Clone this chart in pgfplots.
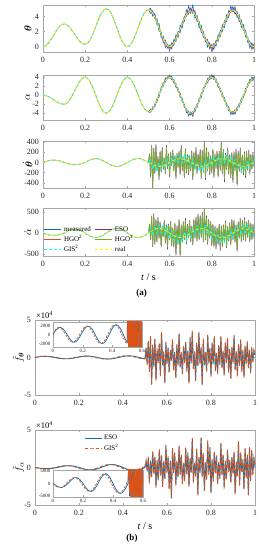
\documentclass[border=0pt]{standalone}
\usepackage{pgfplots}
\pgfplotsset{compat=1.18}
\usepackage{pgfplotstable}
\usepackage{fontspec}
\setmainfont{Liberation Serif}
\usepackage{amsmath}
\usepackage{bm}

\definecolor{cmeas}{rgb}{0,0.447,0.741}
\definecolor{ceso}{rgb}{0.494,0.184,0.556}
\definecolor{chgo}{rgb}{0.85,0.325,0.098}
\definecolor{chgoone}{rgb}{0.466,0.674,0.188}
\definecolor{cgis}{rgb}{0,1,1}
\definecolor{creal}{rgb}{1,0.95,0}

% smooth signals, t = 0 ... 1
\pgfplotstableread{
t th al thd ald
0.00 0 0 0 0
0.01 0.07 -0.05 15 -19
0.02 0.29 -0.19 28 -35
0.03 0.62 -0.41 38 -49
0.04 1.04 -0.69 45 -57
0.05 1.5 -1 47 -60
0.06 1.96 -1.31 45 -57
0.07 2.38 -1.59 38 -49
0.08 2.71 -1.81 28 -35
0.09 2.93 -1.95 15 -19
0.10 3.0 -2 0 0
0.11 2.93 -1.85 -14 29
0.12 2.74 -1.43 -27 56
0.13 2.44 -0.76 -36 77
0.14 2.07 0.07 -43 90
0.15 1.65 1 -45 95
0.16 1.23 1.93 -43 90
0.17 0.86 2.76 -36 77
0.18 0.56 3.43 -27 56
0.19 0.37 3.85 -14 29
0.20 0.3 4 0 0
0.21 0.42 3.8 23 -34
0.22 0.75 3.24 44 -65
0.23 1.27 2.35 60 -89
0.24 1.92 1.24 70 -105
0.25 2.65 0 74 -110
0.26 3.38 -1.24 70 -105
0.27 4.03 -2.35 60 -89
0.28 4.55 -3.24 44 -65
0.29 4.88 -3.8 23 -34
0.30 5.0 -4 0 0
0.31 4.88 -3.8 -24 34
0.32 4.52 -3.24 -46 65
0.33 3.97 -2.35 -63 89
0.34 3.27 -1.24 -74 105
0.35 2.5 0 -78 110
0.36 1.73 1.24 -74 105
0.37 1.03 2.35 -63 89
0.38 0.48 3.24 -46 65
0.39 0.12 3.8 -24 34
0.40 0 4 0 0
0.41 0.12 3.81 24 -34
0.42 0.47 3.26 45 -65
0.43 1.01 2.41 62 -89
0.44 1.69 1.34 73 -105
0.45 2.45 0.15 77 -110
0.46 3.21 -1.04 73 -105
0.47 3.89 -2.11 62 -89
0.48 4.43 -2.96 45 -65
0.49 4.78 -3.51 24 -34
0.50 4.9 -3.7 0 0
0.51 4.78 -3.51 -24 34
0.52 4.43 -2.96 -45 65
0.53 3.89 -2.11 -62 89
0.54 3.21 -1.04 -73 105
0.55 2.45 0.15 -77 110
0.56 1.69 1.34 -73 105
0.57 1.01 2.41 -62 89
0.58 0.47 3.26 -45 65
0.59 0.12 3.81 -24 34
0.60 0 4 0 0
0.61 0.12 3.8 23 -34
0.62 0.45 3.24 43 -65
0.63 0.97 2.35 60 -89
0.64 1.62 1.24 70 -105
0.65 2.35 0 74 -110
0.66 3.08 -1.24 70 -105
0.67 3.73 -2.35 60 -89
0.68 4.25 -3.24 43 -65
0.69 4.58 -3.8 23 -34
0.70 4.7 -4 0 0
0.71 4.58 -3.8 -23 34
0.72 4.25 -3.24 -43 65
0.73 3.73 -2.35 -60 89
0.74 3.08 -1.24 -70 105
0.75 2.35 0 -74 110
0.76 1.62 1.24 -70 105
0.77 0.97 2.35 -60 89
0.78 0.45 3.24 -43 65
0.79 0.12 3.8 -23 34
0.80 0 4 0 0
0.81 0.12 3.81 23 -34
0.82 0.46 3.25 44 -65
0.83 0.99 2.39 61 -89
0.84 1.66 1.3 71 -105
0.85 2.4 0.1 75 -110
0.86 3.14 -1.1 71 -105
0.87 3.81 -2.19 61 -89
0.88 4.34 -3.06 44 -65
0.89 4.68 -3.61 23 -34
0.90 4.8 -3.8 0 0
0.91 4.68 -3.62 -23 32
0.92 4.34 -3.08 -44 62
0.93 3.81 -2.26 -61 85
0.94 3.14 -1.21 -71 100
0.95 2.4 -0.05 -75 105
0.96 1.66 1.11 -71 100
0.97 0.99 2.16 -61 85
0.98 0.46 2.98 -44 62
0.99 0.12 3.52 -23 32
1.00 0 3.7 0 0
}\Tsmooth

% noisy estimates, t = 0.5 ... 1, step 0.01
\pgfplotstableread{
t thB thP thO alB alP alO thdC aldC
0.50 4.9 4.9 4.9 -3.7 -3.7 -3.7 0 0
0.51 5.08 4.38 4.98 -3.81 -3.11 -3.71 56 134
0.52 4.03 4.73 4.18 -2.56 -3.26 -2.71 -135 -55
0.53 4.39 3.69 4.04 -2.61 -1.91 -2.26 -2 169
0.54 2.91 3.71 3.01 -0.74 -1.54 -0.84 -173 -35
0.55 3.05 2.05 2.7 -0.45 0.55 -0.1 -7 200
0.56 1.19 1.99 1.54 1.84 1.04 1.49 -153 -5
0.57 1.41 0.51 1.21 2.01 2.91 2.21 38 209
0.58 -0.13 0.87 0.22 3.86 2.86 3.51 -105 -25
0.59 0.32 -0.18 0.27 3.61 4.11 3.66 66 134
0.60 -0.5 0.2 -0.2 4.5 3.8 4.2 -70 -130
0.61 0.52 -0.28 0.37 3.4 4.2 3.55 103 56
0.62 0.15 0.95 0.3 3.54 2.74 3.39 -47 -185
0.63 1.57 0.67 1.17 1.75 2.65 2.15 120 -9
0.64 1.22 2.02 1.37 1.64 0.84 1.49 -30 -245
0.65 2.85 1.85 2.5 -0.5 0.5 -0.15 144 -20
0.66 2.48 3.38 2.88 -0.64 -1.54 -1.04 -10 -215
0.67 4.03 3.33 3.98 -2.65 -1.95 -2.6 160 31
0.68 4.05 4.85 4.0 -3.04 -3.84 -2.99 -17 -155
0.69 5.38 4.28 4.73 -4.6 -3.5 -3.95 113 66
0.70 4.4 5.1 4.5 -3.7 -4.4 -3.8 -70 -130
0.71 5.48 4.38 4.83 -4.7 -3.6 -4.05 57 124
0.72 3.75 4.75 4.1 -2.74 -3.74 -3.09 -133 -55
0.73 4.13 3.33 3.93 -2.75 -1.95 -2.55 0 169
0.74 2.48 3.38 2.83 -0.64 -1.54 -0.99 -170 -35
0.75 2.85 1.85 2.5 -0.5 0.5 -0.15 -4 200
0.76 1.22 2.02 1.42 1.64 0.84 1.44 -150 -5
0.77 1.27 0.67 1.22 2.05 2.65 2.1 40 209
0.78 -0.05 0.95 0.3 3.74 2.74 3.39 -103 -25
0.79 0.52 -0.28 0.32 3.4 4.2 3.6 67 134
0.80 -0.6 0.3 -0.2 4.6 3.7 4.2 -70 -130
0.81 0.42 -0.38 0.37 3.51 4.31 3.56 103 56
0.82 0.06 0.86 0.31 3.65 2.85 3.4 -46 -185
0.83 1.59 0.69 1.19 1.79 2.69 2.19 121 -9
0.84 1.36 2.16 1.46 1.6 0.8 1.5 -29 -245
0.85 2.9 2.0 2.65 -0.4 0.5 -0.15 145 -20
0.86 2.54 3.44 2.99 -0.5 -1.4 -0.95 -9 -215
0.87 4.21 3.31 4.01 -2.59 -1.69 -2.39 161 31
0.88 3.84 4.74 4.09 -2.56 -3.46 -2.81 -16 -155
0.89 5.38 4.48 4.83 -4.31 -3.41 -3.76 113 66
0.90 4.6 5.3 4.6 -3.6 -4.3 -3.6 -70 -130
0.91 5.28 4.28 4.93 -4.22 -3.22 -3.87 57 122
0.92 3.84 4.64 4.19 -2.58 -3.38 -2.93 -134 -58
0.93 4.21 3.31 4.01 -2.66 -1.76 -2.46 -1 165
0.94 2.54 3.54 2.94 -0.61 -1.61 -1.01 -171 -40
0.95 2.9 2.1 2.65 -0.55 0.25 -0.3 -5 195
0.96 1.26 2.16 1.51 1.51 0.61 1.26 -151 -10
0.97 1.29 0.59 1.19 1.86 2.56 1.96 39 205
0.98 -0.14 0.76 0.21 3.58 2.68 3.23 -104 -28
0.99 0.52 -0.38 0.27 3.12 4.02 3.37 67 132
1.00 -0.3 0.4 -0.2 4.0 3.3 3.9 -70 -130
}\Tnoisy

% dense noisy series, t = 0.5 ... 1, step 0.005
\pgfplotstableread{
t thdG thdP aldG aldP fthB fthO falB falO
0.500 0 0 0 0 -0.18 -0.2 0 0.12
0.505 150 170 200 220 1.2 1.3 0.8 0.9
0.510 -250 -290 -150 -170 -0.8 -1.0 -0.5 -0.4
0.515 300 340 380 420 2.1 2.2 1.2 1.4
0.520 -480 -520 -300 -340 -1.6 -1.9 -1.9 -2.1
0.525 250 280 420 470 2.6 2.9 0.9 0.7
0.530 -200 -230 -250 -280 -3.6 -3.5 -1.2 -1.4
0.535 320 360 300 340 1.5 1.7 2.0 2.2
0.540 -150 -170 -200 -220 -1.2 -1.0 -0.7 -0.9
0.545 100 120 350 390 2.4 2.5 1.4 1.3
0.550 -300 -340 -120 -130 -2.8 -3.1 -2.5 -2.7
0.555 200 230 250 280 0.9 1.2 0.8 1.0
0.560 -180 -200 -300 -340 -0.5 -0.7 -1.7 -1.5
0.565 260 300 150 170 1.8 1.9 2.2 2.4
0.570 -120 -140 -80 -90 -2.2 -2.5 -0.9 -1.1
0.575 80 90 280 310 3.3 3.4 1.6 1.7
0.580 -200 -230 -220 -250 -1.0 -0.8 -2.3 -2.6
0.585 300 340 180 200 0.6 0.8 0.6 0.8
0.590 -100 -120 -350 -390 -3.4 -3.2 -1.5 -1.4
0.595 150 170 200 220 1.9 2.1 2.8 3.0
0.600 -250 -290 -150 -170 -0.7 -0.9 -0.6 -0.8
0.605 180 200 260 290 1.3 1.2 1.3 1.5
0.610 -60 -70 -280 -310 -1.9 -2.1 -2.7 -2.9
0.615 220 250 120 130 0.8 1.0 0.9 0.8
0.620 -150 -170 -300 -340 -0.4 -0.3 -4.1 -3.9
0.625 120 140 220 250 2.2 2.4 2.4 2.6
0.630 -280 -320 -480 -540 -1.5 -1.7 -0.5 -0.7
0.635 160 180 160 180 0.7 0.6 1.9 2.0
0.640 -90 -100 -250 -280 -2.6 -2.8 -2.2 -2.4
0.645 200 230 300 340 1.6 1.8 0.7 0.9
0.650 -220 -250 -520 -560 -0.9 -1.1 -1.3 -1.2
0.655 300 340 180 200 3.1 3.2 2.7 2.9
0.660 -150 -170 -200 -220 -1.3 -1.2 -0.8 -1.0
0.665 100 120 250 280 0.5 0.7 1.5 1.7
0.670 -260 -300 -150 -170 -2.0 -2.2 -2.0 -2.2
0.675 240 270 320 360 1.4 1.5 0.4 0.6
0.680 -180 -210 -240 -270 -0.6 -0.8 -1.6 -1.8
0.685 140 160 200 220 2.0 2.2 2.6 2.7
0.690 -220 -250 -100 -110 -1.7 -1.9 -0.9 -0.8
0.695 120 140 280 310 0.9 0.8 1.8 2.0
0.700 -150 -170 -200 -220 -3.3 -3.5 -2.4 -2.6
0.705 200 230 150 170 2.5 2.7 1.1 1.3
0.710 -300 -340 -260 -290 -0.8 -0.6 -0.6 -0.8
0.715 180 210 300 340 3.4 3.6 3.8 3.9
0.720 -120 -140 -120 -130 -1.4 -1.6 -1.8 -2.0
0.725 260 300 350 390 0.6 0.8 0.5 0.7
0.730 -200 -230 -180 -200 -2.9 -3.1 -1.0 -1.2
0.735 150 170 420 470 1.7 1.9 2.3 2.5
0.740 -100 -120 -150 -170 -1.1 -1.0 -3.5 -3.7
0.745 230 260 380 420 3.2 3.4 1.2 1.4
0.750 -280 -320 -100 -110 -0.7 -0.9 -0.7 -0.5
0.755 210 240 450 500 1.2 1.4 3.9 4.1
0.760 -170 -200 -200 -220 -3.5 -3.7 -1.1 -1.3
0.765 400 420 600 620 2.3 2.5 1.7 1.9
0.770 -300 -340 -150 -170 -1.0 -0.8 -2.9 -3.1
0.775 250 290 380 420 0.5 0.7 0.6 0.8
0.780 -150 -170 -250 -280 -1.8 -2.0 -1.4 -1.6
0.785 180 210 300 340 2.9 3.1 3.4 3.6
0.790 -220 -250 -120 -130 -0.6 -0.8 -0.8 -1.0
0.795 120 140 250 280 1.1 1.3 2.5 2.7
0.800 -180 -210 -280 -310 -2.4 -2.6 -3.3 -3.5
0.805 240 270 200 220 1.8 2.0 0.9 1.1
0.810 -260 -300 -300 -340 -0.9 -0.7 -1.7 -1.9
0.815 150 170 150 170 2.6 2.8 2.0 2.2
0.820 -100 -120 -350 -390 -1.6 -1.8 -0.6 -0.8
0.825 200 230 120 130 0.4 0.6 1.4 1.6
0.830 -250 -290 -250 -280 -2.0 -2.2 -2.0 -2.2
0.835 190 220 200 220 1.5 1.7 0.5 0.7
0.840 -140 -160 -380 -420 -0.8 -1.0 -1.3 -1.5
0.845 380 400 160 180 2.7 2.9 3.1 3.3
0.850 -200 -230 -300 -340 -1.3 -1.5 -0.9 -1.1
0.855 230 260 180 200 0.7 0.9 1.6 1.8
0.860 -330 -380 -200 -220 -2.2 -2.4 -2.6 -2.8
0.865 160 180 260 290 1.9 2.1 0.7 0.9
0.870 -120 -140 -320 -360 -0.5 -0.7 -1.5 -1.7
0.875 250 290 150 170 2.4 2.6 2.2 2.4
0.880 -210 -240 -180 -200 -1.8 -2.0 -0.4 -0.6
0.885 140 160 220 250 0.9 1.1 0.8 1.0
0.890 -260 -300 -260 -290 -2.7 -2.9 -1.9 -2.1
0.895 170 200 300 340 1.3 1.5 1.3 1.5
0.900 -350 -400 -150 -170 -0.6 -0.8 -0.7 -0.9
0.905 180 210 280 310 2.8 3.0 1.9 2.1
0.910 -150 -170 -200 -220 -1.5 -1.7 -3.4 -3.6
0.915 240 270 180 200 0.6 0.8 0.6 0.8
0.920 -420 -460 -400 -450 -2.3 -2.5 -1.0 -1.2
0.925 200 230 250 280 1.6 1.8 3.3 3.5
0.930 -160 -180 -120 -130 -0.9 -1.1 -2.2 -2.4
0.935 250 290 320 360 2.2 2.4 1.8 2.0
0.940 -180 -210 -200 -220 -1.7 -1.9 -0.5 -0.7
0.945 130 150 280 310 0.8 1.0 0.9 1.1
0.950 -220 -250 -150 -170 -2.5 -2.7 -2.8 -3.0
0.955 180 210 330 370 1.4 1.6 2.4 2.6
0.960 -260 -300 -180 -200 -0.7 -0.9 -1.2 -1.4
0.965 190 220 250 280 2.0 2.2 1.5 1.7
0.970 -140 -160 -100 -110 -1.2 -1.4 -3.6 -3.8
0.975 210 240 280 310 0.9 1.1 2.6 2.8
0.980 -200 -230 -200 -220 -1.9 -2.1 -1.6 -1.8
0.985 150 170 220 250 1.2 1.4 2.1 2.3
0.990 -120 -140 -150 -170 -0.5 -0.7 -0.8 -1.0
0.995 160 180 200 220 0.8 1.0 1.2 1.4
1.000 -80 -90 -100 -110 0.3 0.4 0.1 0.2
}\Tdense

% lumped disturbance estimates before the switch (units of 10^4), t = 0 ... 0.5
\pgfplotstableread{
t fthB fthO falB falO
0.00 0 0 0 0
0.01 0.05 0.05 -0.04 -0.06
0.02 0.094 0.13 -0.08 -0.117
0.03 0.13 0.151 -0.117 -0.145
0.04 0.151 0.157 -0.145 -0.16
0.05 0.157 0.146 -0.16 -0.16
0.06 0.146 0.118 -0.16 -0.142
0.07 0.118 0.076 -0.142 -0.108
0.08 0.076 0.026 -0.108 -0.059
0.09 0.026 -0.029 -0.059 0
0.10 -0.029 -0.081 0 0.064
0.11 -0.081 -0.126 0.064 0.127
0.12 -0.126 -0.157 0.127 0.181
0.13 -0.157 -0.172 0.181 0.221
0.14 -0.172 -0.168 0.221 0.24
0.15 -0.168 -0.146 0.24 0.236
0.16 -0.146 -0.107 0.236 0.207
0.17 -0.107 -0.055 0.207 0.155
0.18 -0.055 0.003 0.155 0.084
0.19 0.003 0.062 0.084 0
0.20 0.062 0.116 0 -0.089
0.21 0.116 0.157 -0.089 -0.174
0.22 0.157 0.182 -0.174 -0.246
0.23 0.182 0.187 -0.246 -0.297
0.24 0.187 0.172 -0.297 -0.32
0.25 0.172 0.138 -0.32 -0.312
0.26 0.138 0.088 -0.312 -0.272
0.27 0.088 0.027 -0.272 -0.202
0.28 0.027 -0.037 -0.202 -0.109
0.29 -0.037 -0.099 -0.109 0
0.30 -0.099 -0.151 0 0.114
0.31 -0.151 -0.186 0.114 0.221
0.32 -0.186 -0.203 0.221 0.311
0.33 -0.203 -0.196 0.311 0.373
0.34 -0.196 -0.169 0.373 0.4
0.35 -0.169 -0.122 0.4 0.38
0.36 -0.122 -0.061 0.38 0.324
0.37 -0.061 0.007 0.324 0.235
0.38 0.007 0.076 0.235 0.124
0.39 0.076 0.138 0.124 0
0.40 0.138 0.185 0 -0.124
0.41 0.185 0.212 -0.124 -0.235
0.42 0.212 0.217 -0.235 -0.324
0.43 0.217 0.198 -0.324 -0.38
0.44 0.198 0.157 -0.38 -0.4
0.45 0.157 0.098 -0.4 -0.38
0.46 0.098 0.027 -0.38 -0.324
0.47 0.027 -0.047 -0.324 -0.235
0.48 -0.047 -0.117 -0.235 -0.124
0.49 -0.117 -0.176 -0.124 0
0.50 -0.176 -0.2 0 0.12
}\Tf

\pgfplotsset{
  panel/.style={
    scale only axis, xmin=0, xmax=1, clip mode=individual,
    xtick={0,0.2,0.4,0.6,0.8,1}, xticklabels={0,0.2,0.4,0.6,0.8,1},
    tick align=inside, major tick length=2pt,
    axis line style={draw=gray!70, line width=0.4pt},
    every tick/.style={draw=gray!70, line width=0.4pt},
    tick label style={font=\fontsize{8}{9}\selectfont, text=black!85},
    xticklabel style={yshift=-1.5pt},
    yticklabel style={xshift=-0.5pt},
    /pgf/number format/assume math mode=true,
    every axis y label/.style={at={(axis description cs:-0.072,0.5)}, rotate=90, anchor=center, font=\fontsize{10}{11}\selectfont},
    every axis x label/.style={at={(axis description cs:0.5,0)}, anchor=north, yshift=-14pt, font=\fontsize{10}{11}\selectfont},
  },
  inset/.style={
    scale only axis, xmin=0, xmax=0.6,
    xtick={0,0.2,0.4,0.6}, xticklabels={0,0.2,0.4,0.6},
    tick align=inside, major tick length=1.5pt,
    axis line style={draw=gray!70, line width=0.4pt},
    every tick/.style={draw=gray!70, line width=0.3pt},
    tick label style={font=\fontsize{5}{6}\selectfont, text=black!85},
    xticklabel style={yshift=1.5pt},
    yticklabel style={xshift=1pt},
    axis background/.style={fill=white},
  },
  lmeas/.style={cmeas, line width=0.6pt},
  leso/.style={ceso, line width=0.6pt},
  lhgo/.style={chgo, line width=0.6pt},
  lhgoone/.style={chgoone, line width=0.75pt},
  lgis/.style={cgis, line width=0.8pt, dash pattern=on 3pt off 2pt},
  lreal/.style={creal, line width=0.8pt, dash pattern=on 3pt off 2pt, dash phase=2.5pt},
  fblue/.style={cmeas, line width=0.9pt},
  forange/.style={chgo, line width=0.9pt, dash pattern=on 3.5pt off 2pt},
}

\begin{document}
\begin{tikzpicture}
\path[use as bounding box] (0pt,0pt) rectangle (266pt,550pt);

% ---------- (a) theta ----------
\begin{axis}[panel, at={(43pt,498pt)}, anchor=south west, width=211pt, height=47pt,
  ymin=-0.7, ymax=5.5, ytick={0,2,4}, yticklabels={0,2,4},
  ylabel={$\bm{\theta}$}]
\addplot[lmeas] table[x=t,y=thB]{\Tnoisy};
\addplot[leso] table[x=t,y=thP]{\Tnoisy};
\addplot[lhgo, restrict x to domain=0:0.5] table[x=t,y=th]{\Tsmooth};
\addplot[lhgo] table[x=t,y=thO]{\Tnoisy};
\addplot[lgis] table[x=t,y=th]{\Tsmooth};
\addplot[lreal] table[x=t,y=th]{\Tsmooth};
\end{axis}

% ---------- (a) alpha ----------
\begin{axis}[panel, at={(43pt,430pt)}, anchor=south west, width=211pt, height=45pt,
  ymin=-5.5, ymax=4.5, ytick={-4,-2,0,2,4}, yticklabels={-4,-2,0,2,4},
  ylabel={$\alpha$}]
\addplot[lmeas] table[x=t,y=alB]{\Tnoisy};
\addplot[leso] table[x=t,y=alP]{\Tnoisy};
\addplot[lhgo, restrict x to domain=0:0.5] table[x=t,y=al]{\Tsmooth};
\addplot[lhgo] table[x=t,y=alO]{\Tnoisy};
\addplot[lgis] table[x=t,y=al]{\Tsmooth};
\addplot[lreal] table[x=t,y=al]{\Tsmooth};
\end{axis}

% ---------- (a) theta dot ----------
\begin{axis}[panel, at={(43pt,362pt)}, anchor=south west, width=211pt, height=47pt,
  ymin=-500, ymax=420, ytick={-400,-200,0,200,400}, yticklabels={-400,-200,0,200,400},
  ylabel={$\dot{\bm{\theta}}$}]
\addplot[leso] table[x=t,y=thdP]{\Tdense};
\addplot[lhgoone] table[x=t,y=thdG]{\Tdense};
\addplot[lhgo, restrict x to domain=0:0.5] table[x=t,y=thd]{\Tsmooth};
\addplot[lgis, restrict x to domain=0:0.5] table[x=t,y=thd]{\Tsmooth};
\addplot[lgis] table[x=t,y=thdC]{\Tnoisy};
\addplot[lreal] table[x=t,y=thd]{\Tsmooth};
\end{axis}

% ---------- (a) alpha dot ----------
\begin{axis}[panel, at={(43pt,294pt)}, anchor=south west, width=211pt, height=48pt,
  ymin=-550, ymax=600, ytick={-500,0,500}, yticklabels={-500,0,500},
  ylabel={$\dot{\alpha}$}, xlabel={\textit{t} / s},
  legend columns=2,
  legend style={at={(axis description cs:0,0)}, anchor=south west, draw=none, fill=none,
    font=\fontsize{7}{8}\selectfont, inner sep=0.5pt, row sep=-1.5pt,
    /tikz/every even column/.append style={column sep=2pt}},
  legend cell align=left]
\addlegendimage{cmeas, line width=1.3pt}\addlegendentry{measured}
\addlegendimage{ceso, line width=1pt}\addlegendentry{ESO}
\addlegendimage{chgo, line width=1pt}\addlegendentry{HGO\textsuperscript{2}}
\addlegendimage{chgoone, line width=1pt}\addlegendentry{HGO\textsuperscript{1}}
\addlegendimage{cgis, line width=1pt, dash pattern=on 3pt off 2pt}\addlegendentry{GIS\textsuperscript{2}}
\addlegendimage{creal, line width=1pt, dash pattern=on 3pt off 2pt}\addlegendentry{real}
\addplot[leso, forget plot] table[x=t,y=aldP]{\Tdense};
\addplot[lhgoone, forget plot] table[x=t,y=aldG]{\Tdense};
\addplot[lhgo, forget plot, restrict x to domain=0:0.5] table[x=t,y=ald]{\Tsmooth};
\addplot[lgis, forget plot, restrict x to domain=0:0.5] table[x=t,y=ald]{\Tsmooth};
\addplot[lgis, forget plot] table[x=t,y=aldC]{\Tnoisy};
\addplot[lreal, forget plot] table[x=t,y=ald]{\Tsmooth};
\node[font=\bfseries\fontsize{9}{10}\selectfont] at (axis description cs:0.5,0) [yshift=-37pt, xshift=-7pt] {(a)};
\end{axis}

% ---------- (b) f theta ----------
\begin{axis}[panel, at={(35pt,155pt)}, anchor=south west, width=220pt, height=75pt,
  ymin=-5, ymax=5, ytick={-5,0,5}, yticklabels={-5,0,5},
  every axis y label/.style={at={(axis description cs:-0.075,0.5)}, rotate=90, anchor=center, font=\fontsize{10}{11}\selectfont},
  ylabel={$\tilde{f}_{\bm{\theta}}$}]
\addplot[fblue] table[x=t,y=fthB]{\Tf};
\addplot[fblue] table[x=t,y=fthB]{\Tdense};
\addplot[forange] table[x=t,y=fthO]{\Tf};
\addplot[forange] table[x=t,y=fthO]{\Tdense};
\node[anchor=south west, inner sep=1pt, font=\fontsize{8.5}{9}\selectfont] at (axis description cs:0,1) {×10\textsuperscript{4}};
\end{axis}
\begin{axis}[inset, at={(53pt,203pt)}, anchor=south west, width=89pt, height=25pt,
  ymin=-0.28, ymax=0.28, ytick={-0.2,0,0.2}, yticklabels={-2000,0,2000}]
\addplot[cmeas, line width=0.7pt] table[x=t,y=fthB]{\Tf};
\addplot[cmeas, line width=0.7pt, restrict x to domain=0.5:0.6] table[x=t,y=fthB]{\Tdense};
\addplot[chgo, line width=0.7pt, dash pattern=on 2.5pt off 1.5pt] table[x=t,y=fthO]{\Tf};
\addplot[chgo, line width=0.7pt, restrict x to domain=0.5:0.6] table[x=t,y=fthO]{\Tdense};
\end{axis}

% ---------- (b) f alpha ----------
\begin{axis}[panel, at={(35pt,45pt)}, anchor=south west, width=220pt, height=75pt,
  ymin=-5, ymax=5, ytick={-5,0,5}, yticklabels={-5,0,5},
  every axis y label/.style={at={(axis description cs:-0.075,0.5)}, rotate=90, anchor=center, font=\fontsize{10}{11}\selectfont},
  ylabel={$\tilde{f}_{\alpha}$}, xlabel={\textit{t} / s},
  legend style={at={(axis description cs:0.22,0.97)}, anchor=north west, draw=none, fill=none,
    font=\fontsize{7}{8}\selectfont, inner sep=0.5pt, row sep=-1pt},
  legend cell align=left]
\addplot[fblue] table[x=t,y=falB]{\Tf};
\addlegendentry{ESO}
\addplot[forange] table[x=t,y=falO]{\Tf};
\addlegendentry{GIS\textsuperscript{2}}
\addplot[fblue, forget plot] table[x=t,y=falB]{\Tdense};
\addplot[forange, forget plot] table[x=t,y=falO]{\Tdense};
\node[anchor=south west, inner sep=1pt, font=\fontsize{8.5}{9}\selectfont] at (axis description cs:0,1) {×10\textsuperscript{4}};
\node[font=\bfseries\fontsize{9}{10}\selectfont] at (axis description cs:0.5,0) [yshift=-33pt, xshift=-13pt] {(b)};
\end{axis}
\begin{axis}[inset, at={(53pt,53pt)}, anchor=south west, width=90pt, height=27pt,
  ymin=-0.55, ymax=0.55, ytick={-0.5,0,0.5}, yticklabels={-5000,0,5000}]
\addplot[cmeas, line width=0.7pt] table[x=t,y=falB]{\Tf};
\addplot[cmeas, line width=0.7pt, restrict x to domain=0.5:0.6] table[x=t,y=falB]{\Tdense};
\addplot[chgo, line width=0.7pt, dash pattern=on 2.5pt off 1.5pt] table[x=t,y=falO]{\Tf};
\addplot[chgo, line width=0.7pt, restrict x to domain=0.5:0.6] table[x=t,y=falO]{\Tdense};
\end{axis}
\end{tikzpicture}
\end{document}
